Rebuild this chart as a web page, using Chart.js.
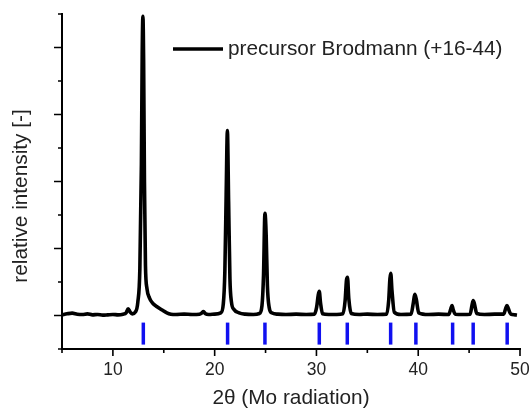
<!DOCTYPE html>
<html>
<head>
<meta charset="utf-8">
<script src="https://cdn.jsdelivr.net/npm/chart.js@4"></script>
<style>
  html, body { margin: 0; padding: 0; background: #fff; }
  #wrap { width: 529px; height: 412px; }
</style>
</head>
<body>
<div id="wrap"><canvas id="xrd"></canvas></div>
<script>
// diffractogram (2theta / relative intensity)
const twoTheta = [
  5.0, 5.5, 6.0, 6.5, 7.0, 7.5, 8.0, 8.5, 9.0, 9.5, 10.0, 10.5, 11.0, 11.3, 11.5, 11.7, 11.9,
  12.2, 12.45, 12.65, 12.8, 12.88, 12.95, 13.02, 13.1, 13.2, 13.35, 13.6, 13.9, 14.3, 14.8, 15.3, 15.7,
  16.2, 17.0, 17.8, 18.5, 18.75, 18.9, 19.1, 19.4, 20.0, 20.6, 20.85, 21.0, 21.13, 21.25, 21.37, 21.5,
  21.65, 21.9, 22.4, 23.0, 23.8, 24.4, 24.65, 24.8, 24.94, 25.06, 25.18, 25.35, 25.6, 26.2, 27.0, 28.0,
  29.0, 29.8, 30.02, 30.18, 30.28, 30.4, 30.6, 31.2, 32.0, 32.6, 32.82, 32.95, 33.05, 33.18, 33.42, 34.2,
  35.0, 36.0, 36.9, 37.1, 37.22, 37.3, 37.42, 37.65, 38.3, 39.3, 39.52, 39.66, 39.8, 40.05, 41.0, 42.0,
  43.0, 43.2, 43.32, 43.45, 43.65, 44.4, 45.1, 45.28, 45.4, 45.52, 45.75, 46.5, 47.5, 48.4, 48.58, 48.72,
  48.86, 49.1, 49.5, 49.7
];
const intensity = [
  0.02, 0.05, 0.07, 0.04, 0.03, 0.05, 0.02, 0.03, 0.01, 0.02, 0.03, 0.02, 0.04, 0.08, 0.2, 0.1, 0.05,
  0.1, 0.4, 1.4, 4.5, 7.8, 8.93, 7.6, 4.0, 1.5, 0.8, 0.52, 0.37, 0.27, 0.17, 0.08, 0.04,
  0.03, 0.04, 0.03, 0.04, 0.08, 0.12, 0.05, 0.03, 0.04, 0.08, 0.35, 1.3, 3.6, 5.52, 3.4, 1.1,
  0.4, 0.18, 0.08, 0.04, 0.03, 0.06, 0.3, 1.2, 3.05, 2.4, 0.9, 0.25, 0.08, 0.04, 0.03, 0.04,
  0.03, 0.04, 0.25, 0.62, 0.72, 0.38, 0.05, 0.03, 0.03, 0.05, 0.45, 1.05, 1.14, 0.5, 0.06, 0.03,
  0.04, 0.03, 0.04, 0.45, 1.1, 1.26, 0.75, 0.1, 0.03, 0.04, 0.38, 0.63, 0.5, 0.08, 0.03, 0.04,
  0.03, 0.2, 0.3, 0.16, 0.04, 0.03, 0.04, 0.3, 0.45, 0.35, 0.06, 0.03, 0.04, 0.04, 0.2, 0.3,
  0.2, 0.04, 0.02, 0.01
];

// reference reflections (blue bars)
const refPositions = [12.99, 21.27, 24.94, 30.28, 33.03, 37.29, 39.77, 43.38, 45.4, 48.74];
const refLevel = -0.54;

// axis ticks
const xMajorTicks = [10, 20, 30, 40, 50];
const xMinorTicks = [5, 15, 25, 35, 45];
const yMajorTicks = [0, 2, 4, 6, 8];
const yMinorTicks = [-1, 1, 3, 5, 7, 9];

const seriesLabel = "precursor Brodmann (+16-44)";
const xTitle = "2\u03b8 (Mo radiation)";
const yTitle = "relative intensity [-]";

const FONT = "'Liberation Sans', Arial, sans-serif";
const TEXT = "#222";

// draws axis tick marks, the legend and the y title
const decorations = {
  id: "decorations",
  afterDraw(chart) {
    const { ctx, chartArea: area, scales } = chart;
    const x = scales.x, y = scales.y;
    ctx.save();
    ctx.strokeStyle = "#000";
    ctx.lineWidth = 1.6;
    ctx.beginPath();
    xMajorTicks.forEach((v) => {
      const px = x.getPixelForValue(v);
      ctx.moveTo(px, area.bottom);
      ctx.lineTo(px, area.bottom + 7);
    });
    xMinorTicks.forEach((v) => {
      const px = x.getPixelForValue(v);
      ctx.moveTo(px, area.bottom);
      ctx.lineTo(px, area.bottom + 4);
    });
    yMajorTicks.forEach((v) => {
      const py = y.getPixelForValue(v);
      ctx.moveTo(area.left, py);
      ctx.lineTo(area.left - 8, py);
    });
    yMinorTicks.forEach((v) => {
      const py = y.getPixelForValue(v);
      ctx.moveTo(area.left, py);
      ctx.lineTo(area.left - 4, py);
    });
    ctx.stroke();

    // legend
    const ds = chart.data.datasets[0];
    ctx.strokeStyle = ds.borderColor;
    ctx.lineWidth = ds.borderWidth;
    ctx.beginPath();
    ctx.moveTo(area.left + 111, area.top + 35);
    ctx.lineTo(area.left + 161, area.top + 35);
    ctx.stroke();
    ctx.fillStyle = TEXT;
    ctx.font = "20.8px " + FONT;
    ctx.textBaseline = "middle";
    ctx.textAlign = "left";
    ctx.fillText(ds.label, area.left + 166, area.top + 35);

    // y title
    ctx.translate(21.5, 196);
    ctx.rotate(-Math.PI / 2);
    ctx.textAlign = "center";
    ctx.fillText(yTitle, 0, 0);
    ctx.restore();
  },
};

new Chart(document.getElementById("xrd"), {
  type: "line",
  data: {
    datasets: [
      {
        label: seriesLabel,
        data: twoTheta.map((t, i) => ({ x: t, y: intensity[i] })),
        borderColor: "#000",
        borderWidth: 3.6,
        pointRadius: 0,
        cubicInterpolationMode: "monotone",
        fill: false,
      },
      {
        label: "reference",
        data: refPositions.map((t) => ({ x: t, y: refLevel })),
        showLine: false,
        pointStyle: "line",
        rotation: 90,
        pointRadius: 11,
        pointBorderWidth: 3.5,
        borderColor: "#1010f0",
        pointBorderColor: "#1010f0",
      },
    ],
  },
  options: {
    responsive: true,
    maintainAspectRatio: false,
    animation: false,
    layout: {
      autoPadding: false,
      padding: { top: 14, right: 9, left: 0, bottom: 0 },
    },
    plugins: {
      legend: { display: false },
      tooltip: { enabled: false },
    },
    scales: {
      x: {
        type: "linear",
        min: 5,
        max: 50,
        afterBuildTicks: (s) => {
          s.ticks = xMajorTicks.map((v) => ({ value: v }));
        },
        afterFit: (s) => {
          s.height = 63;
          s.paddingLeft = 0;
          s.paddingRight = 0;
        },
        grid: { display: false, drawTicks: false },
        border: { display: true, color: "#000", width: 2 },
        ticks: {
          color: TEXT,
          font: { family: FONT, size: 17.5 },
          padding: 11,
          maxRotation: 0,
        },
        title: {
          display: true,
          text: xTitle,
          color: TEXT,
          font: { family: FONT, size: 20.8 },
          padding: { top: 0, bottom: 1 },
        },
      },
      y: {
        min: -1,
        max: 9,
        afterFit: (s) => {
          s.width = 62;
          s.paddingTop = 0;
          s.paddingBottom = 0;
        },
        grid: { display: false, drawTicks: false },
        border: { display: true, color: "#000", width: 2 },
        ticks: { display: false },
      },
    },
  },
  plugins: [decorations],
});
</script>
</body>
</html>
